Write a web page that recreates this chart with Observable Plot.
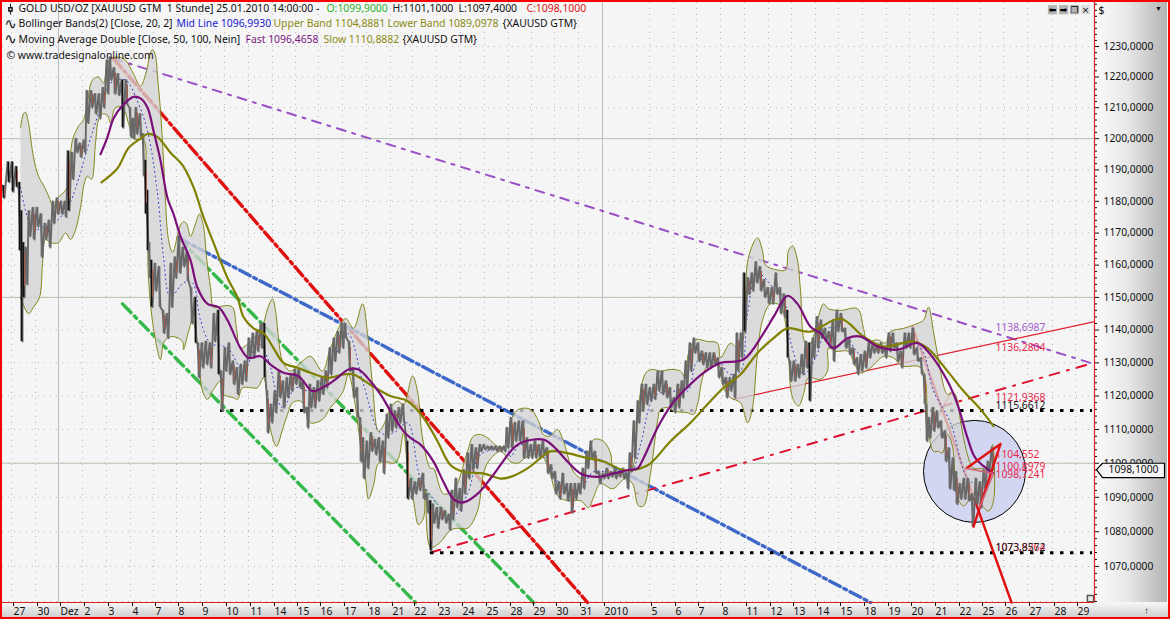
<!DOCTYPE html>
<html><head><meta charset="utf-8">
<script src="https://cdn.jsdelivr.net/npm/d3@7"></script>
<script src="https://cdn.jsdelivr.net/npm/@observablehq/plot@0.6"></script>
<style>
html,body{margin:0;padding:0;background:#f5f5f5;overflow:hidden}
svg{display:block;outline:2.5px solid #f00;outline-offset:-2.5px}
</style></head><body>
<div id="chart"></div>
<script>
// session ticks on the hourly bar axis
const tickBars=[11,35,58,82,106,130,153,176,200,224,248,272,295,318,342,366,390,412,436,460,484,508,531,554,578,602,649,673,696,720,744,768,791,815,838,862,886,909,933,957,980,1003,1027,1052,1075];
const tickLabels=["27","30","Dez","2","3","4","7","8","9","10","11","14","15","16","17","18","21","22","23","24","25","28","29","30","31","2010","5","6","7","8","11","12","13","14","15","18","19","20","21","22","25","26","27","28","29"];
const priceTicks=[1070,1080,1090,1100,1110,1120,1130,1140,1150,1160,1170,1180,1190,1200,1210,1220,1230];
const minorTicks=[1060,1062,1064,1066,1068,1072,1074,1076,1078,1082,1084,1086,1088,1092,1094,1096,1098,1102,1104,1106,1108,1112,1114,1116,1118,1122,1124,1126,1128,1132,1134,1136,1138,1142,1144,1146,1148,1152,1154,1156,1158,1162,1164,1166,1168,1172,1174,1176,1178,1182,1184,1186,1188,1192,1194,1196,1198,1202,1204,1206,1208,1212,1214,1216,1218,1222,1224,1226,1228,1232,1234,1236,1238,1240,1242,1244];
const solidPrices=[1100,1150,1200];
const solidBars=[58,602];

// hourly candles, high and low
const barNo=[3,8,12,16,19,21,23,26,29,33,37,41,45,49,53,57,61,65,68,72,76,80,84,87,91,95,99,103,107,110,114,118,122,126,130,133,136,140,143,145,147,149,151,155,159,163,167,171,175,179,183,187,191,195,198,202,206,210,214,218,221,225,229,233,237,241,245,249,253,257,261,264,267,271,275,279,283,287,291,295,299,303,307,310,314,318,322,326,330,334,338,342,345,349,353,357,360,363,367,371,375,379,383,387,391,395,399,403,407,411,415,419,423,427,430,433,437,441,445,449,452,456,460,464,468,472,476,480,484,488,492,496,500,504,507,511,515,519,523,527,531,535,539,543,547,551,555,559,563,567,571,575,579,583,587,591,595,599,603,607,611,615,619,623,627,630,634,638,642,646,650,654,658,662,666,670,674,678,682,686,690,694,698,702,706,710,714,718,722,726,730,734,737,741,744,748,752,756,760,764,768,772,776,780,784,787,790,794,798,802,806,809,813,817,821,825,829,833,837,841,845,849,853,857,861,865,869,873,877,881,885,889,893,897,901,905,909,913,917,921,924,926,929,933,937,941,945,949,953,956,960,964,968,972,976,980,984,988,992];
const barHigh=[1185,1192.5,1192.5,1191,1186,1177,1167,1165.5,1177,1178,1178,1176,1173,1174,1180,1181,1180,1180,1196,1195.5,1200,1198.5,1199.5,1215.5,1215.5,1214.5,1214.5,1216.5,1225.5,1226.5,1223,1221,1219,1219,1210,1206.5,1210,1208,1201.5,1193,1183.5,1167,1161.5,1160.5,1159.5,1146,1145,1160.5,1162.5,1169,1165.5,1164,1153,1150,1136,1136,1136.5,1136,1145,1146,1127.5,1134.5,1136,1130.5,1128.5,1129.5,1130.5,1137.5,1139,1139.5,1142,1142,1121.5,1117.5,1121.5,1127.5,1124.5,1125.5,1126.5,1128,1128,1124.5,1116.5,1123.5,1122.5,1124.5,1125.5,1127.5,1134.5,1137.5,1139.5,1142,1142,1136.5,1128.5,1122.5,1113.5,1107.5,1106.5,1109,1107,1107.5,1106.5,1114.5,1117.5,1115.5,1116.5,1117.5,1106.5,1095.5,1094.5,1095.5,1097,1091,1089,1088,1087,1087,1086,1085,1092,1095.5,1092.5,1098,1103,1105.5,1104.5,1105.5,1105.5,1105,1105,1105,1105,1105,1110.5,1113.5,1112,1112.5,1112.5,1107.5,1105.5,1106.5,1105.5,1106.5,1104.5,1099.5,1097.5,1094.5,1097,1094,1094,1094,1094,1098.5,1103.5,1106.5,1103.5,1097.5,1097,1098.5,1097.5,1098,1097.5,1098.5,1097,1103,1112.5,1118.5,1123.5,1123.5,1122.5,1123.5,1127.5,1127.5,1124.5,1122.5,1119.5,1123.5,1124.5,1130.5,1136,1137.5,1136,1133.5,1133,1133,1133,1131.5,1128.5,1125.5,1125.5,1126.5,1139,1139,1157.5,1156,1157.5,1161,1159.5,1155.5,1153,1153,1157.5,1153,1151,1146,1130.5,1130.5,1129.5,1132.5,1136.5,1136,1137.5,1144,1143,1140.5,1139.5,1143,1146,1145,1140.5,1137.5,1134.5,1131.5,1132.5,1133.5,1136,1136,1135,1136,1134.5,1139,1139,1136,1133.5,1139,1139,1140.5,1134.5,1131.5,1126.5,1117.5,1113.5,1116.5,1115.5,1112.5,1109.5,1104.5,1101.5,1097.5,1094,1095.5,1095.5,1091,1095.5,1094.5,1098,1100.5,1104.5];
const barLow=[1181,1186,1183,1184.5,1164.5,1136.5,1150,1154,1169,1168,1172,1162.5,1168,1165.5,1173,1176,1176,1175,1177,1187,1195.5,1194,1195.5,1205,1210,1208,1206.5,1210,1214.5,1219,1214.5,1214,1203.5,1211,1200.5,1200,1201.5,1200.5,1188,1176,1164.5,1156,1147,1152,1147,1139,1137.5,1147,1156,1157.5,1159.5,1155,1142,1136,1125.5,1128.5,1129.5,1128.5,1136.5,1126.5,1115.5,1127.5,1126.5,1123.5,1120.5,1123.5,1124.5,1131.5,1131.5,1133.5,1134.5,1125.5,1109,1112,1115,1119.5,1116.5,1119.5,1121.5,1123.5,1122.5,1115,1110.5,1116.5,1116.5,1118.5,1120.5,1122.5,1126.5,1130.5,1133,1134.5,1137.5,1127.5,1119.5,1113.5,1100.5,1095.5,1098.5,1103.5,1102.5,1100.5,1097,1107.5,1109.5,1110.5,1112,1112,1089.5,1089.5,1091,1092,1089.5,1085.5,1074.5,1082.5,1081,1083.5,1082.5,1080.5,1083.5,1087,1086,1091,1095.5,1098,1098.5,1103.5,1104,1104,1104,1103.5,1103.5,1103.5,1104.5,1104.5,1106.5,1106.5,1101.5,1101.5,1101.5,1101.5,1101.5,1102.5,1097,1095.5,1091,1089.5,1091,1089,1085.5,1089.5,1091,1092.5,1098.5,1101.5,1097,1094,1095.5,1095.5,1096,1095.5,1096,1095.5,1092.5,1097.5,1101.5,1112,1115.5,1117.5,1118.5,1119,1121.5,1120.5,1119.5,1116.5,1115,1116.5,1119.5,1122.5,1127.5,1133,1130.5,1129.5,1128.5,1128.5,1129.5,1125.5,1123.5,1119.5,1121.5,1119.5,1127.5,1131.5,1139.5,1151,1152,1154.5,1152,1150,1148,1148,1151,1145,1144,1131.5,1124.5,1124.5,1125.5,1126.5,1128.5,1118.5,1131.5,1134.5,1137.5,1136.5,1134.5,1130.5,1139.5,1139.5,1134.5,1132.5,1129.5,1126.5,1127.5,1128.5,1131.5,1133,1133,1133,1131.5,1133.5,1134.5,1130.5,1128.5,1134.5,1134.5,1132.5,1130.5,1126.5,1117.5,1106.5,1107.5,1109.5,1110.5,1107.5,1100.5,1092.5,1092,1088,1089.5,1089.5,1089,1081.5,1088,1087,1092.5,1097,1098];

// Bollinger bands
const upperBar=[20,23,25,28,33,38,44,49,53,57,65,68,72,78,83,87,92,98,103,107,110,118,125,133,140,146,150,152,155,157,160,163,165,168,172,180,183,186,190,195,199,203,206,210,213,218,225,232,236,240,250,257,263,267,272,275,278,282,290,300,310,322,330,345,353,362,367,372,378,385,390,397,403,412,417,422,430,433,443,453,457,467,473,480,487,500,507,510,518,530,538,543,549,557,563,573,582,587,593,603,610,613,627,632,637,642,647,653,660,670,680,685,688,695,707,717,720,730,737,742,748,757,762,765,777,785,788,792,797,800,805,810,817,823,828,840,857,863,867,877,885,890,903,917,923,928,933,938,947,953,957,960,968,973,980,987,992];
const upperBand=[1203.5,1208,1208.5,1205,1194,1188,1184.5,1181,1178,1181,1183.5,1188,1199.5,1204,1206,1212,1219,1220,1218,1224.5,1226,1226.5,1225.5,1221,1217,1222,1228,1229,1227,1220,1209,1193,1180,1168,1164,1172.5,1173.5,1173,1169,1173,1176,1172,1162.5,1153,1147,1147,1147.5,1147,1140.5,1134.5,1136.5,1139,1142,1146.5,1149.5,1146,1137.5,1130.5,1127.5,1130,1132,1127.5,1134.5,1143.5,1140.5,1148,1139,1123.5,1109.5,1112.5,1116.5,1118.5,1117.5,1126,1121.5,1107.5,1098.5,1098.5,1091,1092,1094,1103.5,1108,1108.5,1107.5,1104.5,1105.5,1112.5,1116,1116,1112.5,1108.5,1108,1110,1106.5,1097.5,1095.5,1101.5,1107,1106.5,1103,1098.5,1097,1098.5,1112.5,1124.5,1127.5,1128,1127.5,1128,1127.5,1125.5,1133,1137,1136.5,1136,1131.5,1136,1134.5,1136.5,1162.5,1168.5,1164.5,1160,1158.5,1158.5,1164.5,1166,1161.5,1152,1136,1136,1143,1148,1146.5,1146,1146.5,1140.5,1136.5,1137,1136,1139.5,1140.5,1142,1143,1147,1139.5,1131,1120.5,1121,1118.5,1112.5,1101.5,1098.5,1098.5,1098.5,1105.5];
const lowerBar=[20,28,33,39,42,45,50,58,65,70,75,80,84,87,91,95,98,102,107,110,115,122,128,133,143,145,147,148,153,160,163,167,173,182,183,188,192,197,202,207,213,220,223,233,237,242,250,257,263,270,276,282,287,292,300,305,310,322,330,342,348,353,360,365,368,373,378,385,393,398,403,408,413,418,423,425,430,440,450,458,467,477,483,488,500,510,517,527,540,548,557,567,580,588,593,600,612,625,632,638,643,650,657,660,667,673,687,693,697,702,707,718,723,730,740,747,752,757,762,770,780,785,788,792,798,803,808,820,827,828,835,848,853,860,870,883,893,902,917,923,928,933,938,942,947,952,957,963,972,980,988,993];
const lowerBand=[1150,1145,1147,1150,1160.5,1168,1167,1167,1170,1168,1171,1178,1186,1188,1187,1198.5,1206,1208,1207.5,1205,1210,1210,1205,1200,1199.5,1186,1170,1156,1140.5,1131,1136,1137.5,1138,1136.5,1134,1139.5,1143,1136,1121.5,1119,1122,1124.5,1120.5,1119.5,1119,1122.5,1122.5,1122.5,1125.5,1110,1105,1110,1114.5,1118,1118.5,1116.5,1112,1113,1116.5,1121,1126.5,1120.5,1105.5,1095.5,1089.5,1093.5,1100,1100.5,1100,1101.5,1109,1095.5,1089,1082,1084,1092.5,1075.5,1077,1080.5,1081,1081,1086,1097,1100.5,1103.5,1100.5,1100,1102,1102.5,1098.5,1090.5,1089,1089,1087,1090,1094,1092.5,1095.5,1094,1087.5,1087.5,1097,1112.5,1116,1116.5,1115.5,1115,1114.5,1117.5,1125.5,1129,1129.5,1122.5,1119.5,1118,1112,1116.5,1133,1143,1148,1147.5,1142,1133,1119.5,1117,1120.5,1125.5,1125,1127.5,1134.5,1133.5,1133.5,1130.5,1127,1128.5,1132,1131.5,1129,1129,1127.5,1109.5,1103.5,1103.5,1103,1108.5,1105,1090,1087.5,1090,1088,1086,1089];
const midBar=[20,33,43,53,67,77,87,98,110,125,137,147,157,163,170,183,192,200,210,227,243,257,267,282,295,310,327,347,363,380,393,407,420,437,450,467,480,507,510,520,538,550,563,580,593,613,630,640,653,667,687,697,717,730,740,747,757,773,783,790,803,815,827,843,860,880,900,920,933,950,967,977,992];
const midLine=[1184.5,1171,1172,1173,1178,1186,1197,1208,1218,1219,1212,1202.5,1182.5,1162.5,1150,1154.5,1154.5,1143,1136,1134.5,1127.5,1136,1131.5,1116.5,1122.5,1121.5,1126.5,1139,1123.5,1109,1109,1112,1095.5,1088,1084,1091,1102.5,1104,1102,1105.5,1103.5,1099.5,1092.5,1092.5,1097.5,1097,1097,1105.5,1119.5,1121.5,1121.5,1130.5,1130.5,1126.5,1127.5,1145,1157.5,1153,1150,1136.5,1126.5,1131.5,1140.5,1139.5,1132.5,1134.5,1136,1134.5,1121.5,1112,1095.5,1094,1098];

// moving averages
const fastBar=[100,107,113,123,133,140,147,153,160,167,173,180,190,197,207,218,227,240,248,260,272,283,298,312,325,337,348,358,367,380,390,403,410,420,433,443,453,463,477,490,500,510,520,543,553,567,580,597,613,628,637,643,657,670,683,703,720,743,763,773,787,797,810,820,833,847,860,877,897,917,930,947,957,967,975,993];
const fastMA=[1195,1200.5,1206.5,1211,1213.5,1213,1210,1202.5,1193,1181,1176,1169,1161.5,1153,1148,1147,1143,1134.5,1131.5,1132,1129,1127,1126,1121.5,1123,1125.5,1128,1128,1125.5,1120.5,1115.5,1109.5,1107.5,1105.5,1100.5,1094.5,1089.5,1088.5,1091,1095.5,1099.5,1103.5,1106,1107,1105,1100.5,1097,1096,1097,1098,1098.5,1101.5,1110.5,1117,1121.5,1127,1130,1131,1139,1144,1150.5,1148,1141,1139,1134.5,1137.5,1138,1135,1134,1136,1132.5,1124.5,1117.5,1107.5,1101.5,1097];
const slowBar=[101,117,128,140,147,157,170,182,193,203,213,227,237,243,253,263,273,283,297,310,327,343,353,372,390,407,423,437,450,463,483,500,510,527,540,550,567,587,603,623,640,650,670,690,707,723,740,757,773,787,810,840,863,883,913,927,947,963,980,993];
const slowMA=[1186,1190.5,1197,1200,1201.5,1200.5,1195.5,1191.5,1184.5,1175,1167,1156,1150,1144,1140.5,1139,1134.5,1130,1128.5,1127,1125.5,1126.5,1126.5,1123,1120,1118.5,1113.5,1106.5,1099.5,1097.5,1097,1095.5,1096,1098.5,1101.5,1103.5,1103,1101.5,1100.5,1098,1098.5,1100,1106.5,1112,1117.5,1122.5,1126.5,1133,1137.5,1140.5,1139.5,1143.5,1138,1135,1136.5,1134.5,1127.5,1121.5,1116,1111];

// drawn trend lines: [bar, price, bar, price]
const purpleTrend=[113,1226,1093,1129.7];
const redTrend=[113,1226,587,1059.7];
const greenUpper=[178,1168.5,533,1059.7];
const greenLower=[122,1148,415,1059.7];
const blueTrend=[178,1168.5,870,1059.7];
const redRising=[430,1074,1093,1130];
const redThin=[733,1119,1093,1142.5];
const redFall=[912,1141,1011,1059.7];
const redSmall=[927,1107.5,950,1121];
const triangleBar=[973,1000,966];
const trianglePrice=[1081.5,1105.7,1098.5];
const pinkBar=[966,993,979];
const pinkPrice=[1098.5,1097,1087];
const supportPrices=[1115.66,1073.9];
const supportFrom=[220,430];
const circleBar=[974], circlePrice=[1097.6];

// level labels on the chart
const levelText=["1138,6987","1136,2804","1121,9368","1115,6612","1104,552","1100,8979","1098,7241","1073,9264","1073,8572"];
const levelPrice=[1140.6,1134.5,1119.5,1117,1102.5,1099,1096.5,1075.5,1075.5];
const levelColor=["#a35ccb","#e8284a","#e8284a","#111","#e8284a","#e8284a","#e8284a","#e8284a","#222"];
const levelBar=[995,995,995,995,995,995,995,995,995];

// legend runs: text, start bar, row price, colour
const legendText=["GOLD USD/OZ [XAUUSD GTM  1 Stunde] 25.01.2010 14:00:00 -","O:1099,9000","H:1101,1000","L:1097,4000","C:1098,1000","Bollinger Bands(2) [Close, 20, 2]","Mid Line 1096,9930","Upper Band 1104,8881","Lower Band 1089,0978","{XAUUSD GTM}","Moving Average Double [Close, 50, 100, Nein]","Fast 1096,4658","Slow 1110,8882","{XAUUSD GTM}","© www.tradesignalonline.com"];
const legendBar=[18,326,392,458,526,18,176,273,387,502,18,245,323,402,6];
const legendPrice=[1242.4,1242.4,1242.4,1242.4,1242.4,1237.4,1237.4,1237.4,1237.4,1237.4,1232.4,1232.4,1232.4,1232.4,1227];
const legendColor=["#111","#2bb52b","#111","#111","#e01010","#111","#1a1ad0","#8a8a12","#8a8a12","#111","#111","#7a157a","#8a8a12","#111","#111"];

// last-price tag and window controls
const tagBar=[1096,1102,1164,1164,1102,1096];
const tagPrice=[1098.1,1100,1100,1095.8,1095.8,1098.1];
const btnBar=[1052,1063,1074,1085];
const btnGlyph=["⬅","➡","❐","×"];

const zip=(a,b)=>a.map((v,i)=>({x:v,y:b[i]}));
const seg=t=>[{x:t[0],y:t[1]},{x:t[2],y:t[3]}];
const candles=barNo.map((b,i)=>({b,hi:barHigh[i],lo:barLow[i]}));
const zigzag=barNo.flatMap((b,i)=>[{x:b-1,y:barHigh[i]},{x:b+1,y:barLow[i]}]);
const bandRing=[...zip(upperBar,upperBand),...zip(lowerBar,lowerBand).reverse()];
const F="Noto Sans";
const comma=d=>d.toFixed(4).replace(".",",");

const tl=(t,o)=>Plot.line(seg(t),{x:"x",y:"y",...o});
const chart=Plot.plot({
  width:1170,height:619,marginTop:2,marginBottom:17,marginLeft:2,marginRight:76,
  style:{fontFamily:F,fontSize:"10.3px",color:"#111",background:"linear-gradient(to right,#fafafa,#e8e8e8 45%,#b4b4b4) 1095px 2px/72px 600px no-repeat, linear-gradient(#f6f6f6,#cfcfcf) 0 603px/1170px 14px no-repeat, #f5f5f5"},
  x:{domain:[2,1094]},
  y:{type:"log",domain:[1059.7,1244.6]},
  marks:[
    Plot.ruleY([...priceTicks,1060],{stroke:"#bbb",strokeDasharray:"1 5"}),
    Plot.ruleX(tickBars,{stroke:"#bbb",strokeDasharray:"1 5"}),
    Plot.ruleY(solidPrices,{stroke:"#b6c4b0"}),
    Plot.ruleX(solidBars,{stroke:"#bcbcbc"}),
    Plot.dot(zip(circleBar,circlePrice),{x:"x",y:"y",r:51,fill:"#d3d6f0",stroke:"#000",strokeWidth:1}),
    tl(purpleTrend,{stroke:"#9a4fc6",strokeWidth:2,strokeDasharray:"9 7 3 7"}),
    tl(redTrend,{stroke:"#e01010",strokeWidth:3.4,strokeDasharray:"12 4 3 4"}),
    tl(greenUpper,{stroke:"#34b84a",strokeWidth:3.4,strokeDasharray:"12 5 3 5"}),
    tl(greenLower,{stroke:"#34b84a",strokeWidth:3.4,strokeDasharray:"12 5 3 5"}),
    tl(blueTrend,{stroke:"#3f69c8",strokeWidth:3.4,strokeDasharray:"12 4 3 4"}),
    tl(redRising,{stroke:"#e01030",strokeWidth:2,strokeDasharray:"10 8 2 8"}),
    tl(redThin,{stroke:"#e02030",strokeWidth:1.2}),
    tl(redSmall,{stroke:"#e02030",strokeWidth:1}),
    Plot.ruleY(supportPrices,{x1:supportFrom,x2:[1092,1092],stroke:"#000",strokeWidth:3,strokeDasharray:"3.5 6.5"}),
    tl(redFall,{stroke:"#e01010",strokeWidth:2.4}),
    Plot.line(bandRing,{x:"x",y:"y",curve:"catmull-rom",fill:"#d4d4d4",fillOpacity:0.78,stroke:"#85851a",strokeWidth:1}),
    Plot.line(zip(midBar,midLine),{x:"x",y:"y",curve:"catmull-rom",stroke:"#2030c8",strokeWidth:1,strokeDasharray:"1 3.5"}),
    Plot.line(zigzag,{x:"x",y:"y",stroke:"#676767",strokeWidth:1.9}),
    Plot.ruleX(candles,{x:"b",y1:"hi",y2:"lo",stroke:d=>(d.hi-d.lo>=14||d.b<20)?"#111":"#6b6b6b",strokeWidth:1.8}),
    Plot.ruleX(candles.filter((d,i)=>i%3===0),{x:d=>d.b+1,y1:d=>d.hi-(d.hi-d.lo)*0.2,y2:d=>d.lo+(d.hi-d.lo)*0.2,stroke:"#a85a48",strokeWidth:1}),
    Plot.line(zip(slowBar,slowMA),{x:"x",y:"y",curve:"catmull-rom",stroke:"#808000",strokeWidth:2.2}),
    Plot.line(zip(fastBar,fastMA),{x:"x",y:"y",curve:"catmull-rom",stroke:"#7a0f7a",strokeWidth:2.2}),
    Plot.line(zip(triangleBar,trianglePrice),{x:"x",y:"y",stroke:"#e01010",strokeWidth:2.4}),
    Plot.line(zip(pinkBar,pinkPrice),{x:"x",y:"y",stroke:"#d06078",strokeWidth:1.6}),
    Plot.text(levelText,{x:levelBar,y:levelPrice,text:d=>d,fill:levelColor,textAnchor:"start",fontSize:10.3}),
    Plot.text(legendText,{x:legendBar,y:legendPrice,text:d=>d,fill:legendColor,textAnchor:"start",fontSize:10.4}),
    Plot.text(["∿","∿"],{x:[10,10],y:[1237.4,1232.4],text:d=>d,fontFamily:"DejaVu Sans",fontSize:15,fill:"#111"}),
    Plot.ruleX([10],{y1:1240.5,y2:1244,stroke:"#111"}),
    Plot.dot([10],{x:d=>d,y:[1242.3],symbol:"square",r:1.8,fill:"#fff",stroke:"#111"}),
    // window controls
    Plot.dot(btnBar,{x:d=>d,y:[1242.2,1242.2,1242.2,1242.2],symbol:"square",r:5.2,fill:["#b4b4b4","#b4b4b4","#b4b4b4","#dedede"],stroke:"none"}),
    Plot.text(btnGlyph,{x:btnBar,y:[1242.2,1242.2,1242.2,1242.2],text:d=>d,fontFamily:"DejaVu Sans",fontSize:9,fill:"#000"}),
    Plot.text(["$"],{x:[1101],y:[1241.8],text:d=>d,fontSize:11,fill:"#111"}),
    Plot.text(["▼"],{x:[1158],y:[1242.4],text:d=>d,fontSize:7,fill:"#111"}),
    Plot.text(["↑"],{x:[1146],y:[1057.3],text:d=>d,fontSize:9.5,fill:"#111"}),
    Plot.dot([1090],{x:d=>d,y:[1060.8],symbol:"square",r:3.5,fill:"#ececec",stroke:"#555"}),
    // axes
    Plot.ruleX([1094],{stroke:"#dd2020",strokeWidth:1.2}),
    Plot.ruleY([1059.7],{stroke:"#dd2020",strokeWidth:1.2}),
    Plot.axisY({anchor:"right",ticks:priceTicks,tickSize:4,tickPadding:5,tickFormat:comma,label:null,fontSize:10.3,textAnchor:"start"}),
    Plot.axisY({anchor:"right",ticks:minorTicks,tickSize:2,tickFormat:()=>"",label:null}),
    Plot.axisX({anchor:"bottom",ticks:tickBars,tickSize:4,tickPadding:1,tickFormat:d=>tickLabels[tickBars.indexOf(d)],label:null,textAnchor:"start",dx:2,fontSize:10.3}),
    // last-price tag
    Plot.line(zip(tagBar,tagPrice),{x:"x",y:"y",fill:"#f5f5f5",stroke:"#000",strokeWidth:1.2}),
    Plot.text(["1098,1000"],{x:[1133],y:[1098],text:d=>d,fontSize:10.3,fill:"#111"})
  ]
});
document.getElementById("chart").append(chart);
</script>
</body></html>
